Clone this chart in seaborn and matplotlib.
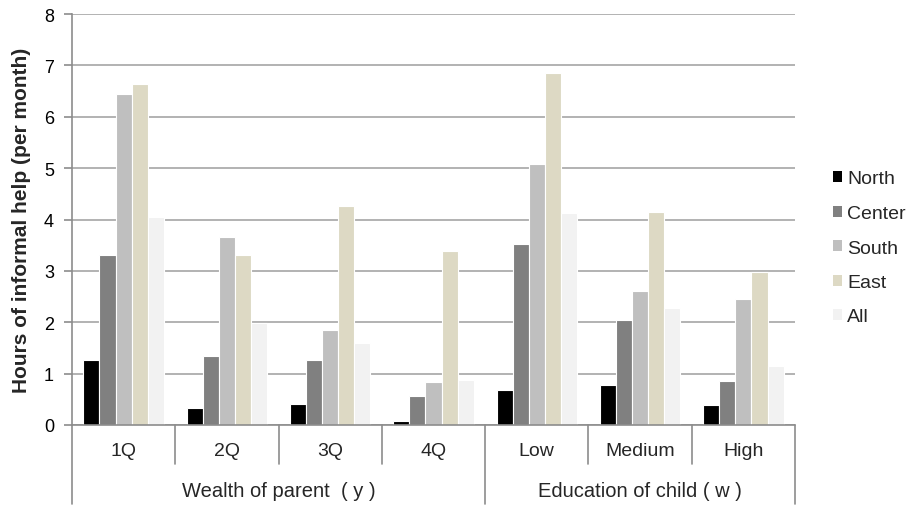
import matplotlib
matplotlib.use("Agg")
import matplotlib.pyplot as plt
import matplotlib.transforms as mtransforms
import pandas as pd
import seaborn as sns

categories = ["1Q", "2Q", "3Q", "4Q", "Low", "Medium", "High"]
regions = ["North", "Center", "South", "East", "All"]
north = [1.27, 0.34, 0.40, 0.08, 0.68, 0.77, 0.38]
center = [3.31, 1.34, 1.26, 0.56, 3.52, 2.05, 0.85]
south = [6.45, 3.65, 1.84, 0.84, 5.08, 2.60, 2.45]
east = [6.64, 3.31, 4.26, 3.39, 6.85, 4.14, 2.98]
all_regions = [4.04, 1.99, 1.60, 0.87, 4.12, 2.27, 1.15]
groups = ["Wealth of parent  ( y )", "Education of child ( w )"]
group_sizes = [4, 3]

series = {"North": north, "Center": center, "South": south,
          "East": east, "All": all_regions}
df = pd.DataFrame([
    {"category": c, "region": r, "hours": v}
    for r in regions for c, v in zip(categories, series[r])
])

colors = ["#000000", "#808080", "#bfbfbf", "#ddd9c4", "#f2f2f2"]

sns.set_theme(style="white")
plt.rcParams["font.family"] = ["Liberation Sans", "DejaVu Sans"]

fig = plt.figure(figsize=(9.11, 5.06), dpi=100)
W, H = 911, 506
left, right, top, zero = 72, 795, 15, 426
ax = fig.add_axes([left / W, (H - zero) / H, (right - left) / W, (zero - top) / H])

sns.barplot(data=df, x="category", y="hours", hue="region", order=categories,
            hue_order=regions, palette=colors, width=0.78, ax=ax,
            edgecolor="white", linewidth=0.8, saturation=1, legend=True)

ax.set_xlim(-0.5, len(categories) - 0.5)
ax.set_ylim(0, 8)
ax.set_yticks(range(0, 9))
ax.yaxis.grid(True, color="#a6a6a6", linewidth=1.2)
ax.set_axisbelow(True)
for s in ["top", "right", "bottom"]:
    ax.spines[s].set_visible(False)
ax.spines["left"].set_color("#8c8c8c")
ax.spines["left"].set_linewidth(1.2)
ax.tick_params(axis="y", left=True, length=6, width=1.2, color="#8c8c8c",
               labelsize=13, pad=7, labelcolor="black")
ax.set_xticks([])
ax.set_xlabel("")
ax.set_ylabel("Hours of informal help (per month)", fontsize=15,
              fontweight="bold", labelpad=9)

# bottom axis line and category separators below the plot
trans = mtransforms.blended_transform_factory(ax.transData, ax.transAxes)
axh = zero - top
ax.plot([-0.5, len(categories) - 0.5], [0, 0], transform=trans,
        color="#8c8c8c", lw=1.2, clip_on=False)
group_edges = [-0.5]
for n in group_sizes:
    group_edges.append(group_edges[-1] + n)
for i in range(len(categories) + 1):
    x = i - 0.5
    depth = 79 if x in group_edges else 39
    ax.plot([x, x], [0, -depth / axh], transform=trans, color="#8c8c8c",
            lw=1.2, clip_on=False)
for i, c in enumerate(categories):
    ax.text(i, -26 / axh, c, transform=trans, ha="center", va="center",
            fontsize=14)
for g, a, b in zip(groups, group_edges[:-1], group_edges[1:]):
    ax.text((a + b) / 2, -66 / axh, g, transform=trans, ha="center",
            va="center", fontsize=14.5)

leg = ax.legend(loc="center left", bbox_to_anchor=(817 / W, (H - 249) / H),
                bbox_transform=fig.transFigure, frameon=False,
                fontsize=14, handlelength=0.5, handleheight=0.5,
                handletextpad=0.25, labelspacing=0.9, borderpad=0.3)
for h in leg.legend_handles:
    h.set_edgecolor("none")

fig.savefig("out.png", dpi=100, facecolor="white")
